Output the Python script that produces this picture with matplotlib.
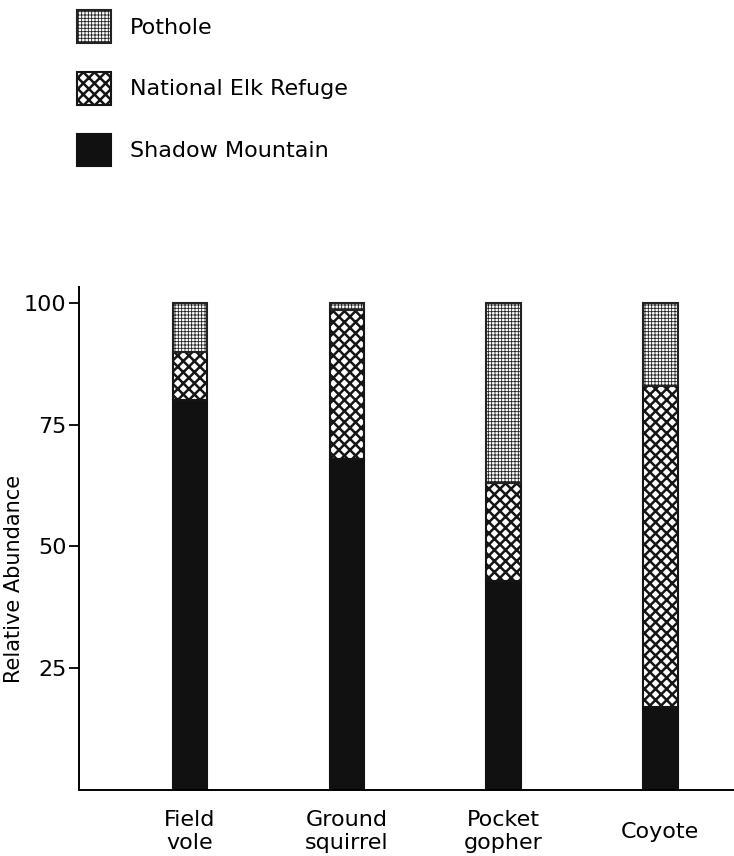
import matplotlib.pyplot as plt
from matplotlib.patches import Patch

# data (percent)
species = ['Field\nvole', 'Ground\nsquirrel', 'Pocket\ngopher', 'Coyote']
shadow_mountain = [80, 68, 43, 17]
national_elk_refuge = [10, 30.5, 20, 66]
pothole = [10, 1.5, 37, 17]
yticks = [25, 50, 75, 100]

plt.rcParams['font.family'] = 'DejaVu Sans'
plt.rcParams['font.size'] = 16

fig = plt.figure(figsize=(7.34, 8.56), dpi=100)
ax = fig.add_axes([0.1076, 0.077, 0.8924, 0.588])

x = range(len(species))
w = 0.22
bottom2 = [a + b for a, b in zip(shadow_mountain, national_elk_refuge)]

b1 = ax.bar(x, shadow_mountain, w, color='#111111', edgecolor='#111111', linewidth=1.5)
b2 = ax.bar(x, national_elk_refuge, w, bottom=shadow_mountain, color='white',
            edgecolor='#151515', hatch='xxx', linewidth=1.5)
b3 = ax.bar(x, pothole, w, bottom=bottom2, color='white',
            edgecolor='#222222', hatch='+++++', linewidth=1.5)
for p in b2:
    p.set_hatch_linewidth(1.8)
for p in b3:
    p.set_hatch_linewidth(0.6)

ax.set_xlim(-0.708, 3.47)
ax.set_ylim(0, 103.3)
ax.set_yticks(yticks)
ax.set_xticks(list(x))
ax.set_xticklabels(species, va='center', linespacing=1.2)
ax.tick_params(axis='x', length=0, pad=30)
ax.tick_params(axis='y', length=7, width=1.3, direction='out', pad=2)
ax.spines['top'].set_visible(False)
ax.spines['right'].set_visible(False)
ax.spines['left'].set_linewidth(1.4)
ax.spines['bottom'].set_linewidth(1.4)
ax.set_ylabel('Relative Abundance', fontsize=15, labelpad=4)
ax.yaxis.set_label_coords(-0.084, 0.42)

# legend drawn in the upper left
handles = [Patch(facecolor='white', edgecolor='#222222', hatch='+++++', linewidth=1.5),
           Patch(facecolor='white', edgecolor='#151515', hatch='xxx', linewidth=1.5),
           Patch(facecolor='#111111', edgecolor='#111111', linewidth=1.5)]
leg = fig.legend(handles, ['Pothole', 'National Elk Refuge', 'Shadow Mountain'],
                 loc='upper left', bbox_to_anchor=(77 / 734, 1 - 10 / 856),
                 frameon=False, fontsize=16, handlelength=1.55, handleheight=1.9,
                 handletextpad=0.85, labelspacing=1.3, borderpad=0, borderaxespad=0)
lp = leg.get_patches()
lp[0].set_hatch_linewidth(0.6)
lp[1].set_hatch_linewidth(1.8)

fig.savefig('out.png', dpi=100)
